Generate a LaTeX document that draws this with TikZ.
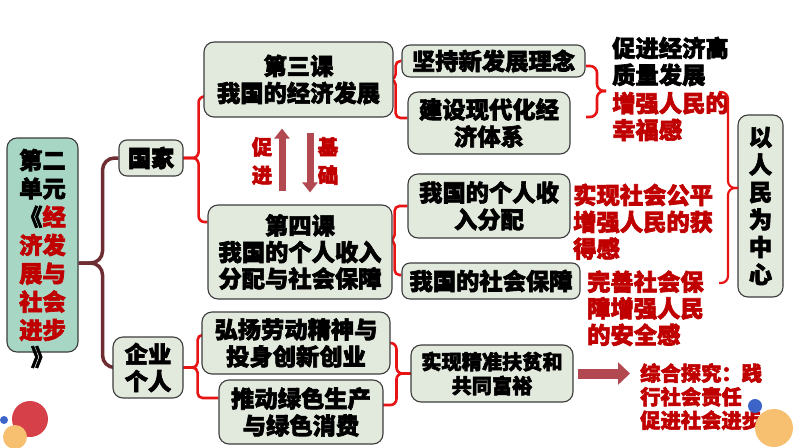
\documentclass[tikz,border=0pt]{standalone}
\usepackage{fontspec}
\setmainfont{Noto Sans CJK SC}[BoldFeatures={FakeBold=2.6}]
\usetikzlibrary{calc,arrows.meta}
\definecolor{boxfill}{RGB}{226,233,221}
\definecolor{unitfill}{RGB}{168,214,197}
\definecolor{bordc}{RGB}{60,60,60}
\definecolor{tred}{RGB}{192,0,0}
\definecolor{bracec}{RGB}{232,20,20}
\definecolor{dbrace}{RGB}{110,45,50}
\definecolor{arrowc}{RGB}{178,72,80}
\definecolor{cred}{RGB}{214,64,72}
\definecolor{corange}{RGB}{246,192,112}
\definecolor{cblue}{RGB}{60,100,200}
\pgfdeclarelayer{bg}
\pgfsetlayers{bg,main}
\begin{document}
\begin{tikzpicture}[x=1pt,y=-1pt,
  box/.style={draw=bordc, line width=1.1pt, fill=boxfill, rounded corners=10pt,
    align=center, inner sep=0pt, text=black,
    font=\bfseries\fontsize{23.3}{27}\selectfont},
  rtext/.style={text=tred, align=left, inner sep=0pt, anchor=west,
    font=\bfseries\fontsize{23.3}{26.8}\selectfont},
  btext/.style={rtext, text=black},
  rb/.style={draw=bracec, line width=2.6pt, rounded corners=6pt},
  db/.style={draw=dbrace, line width=3.5pt, rounded corners=12pt},
  bigarr/.style={draw=arrowc, line width=7pt, -{Triangle[width=15pt,length=10pt]}},
]
\useasboundingbox (0,0) rectangle (794,447);
\begin{pgfonlayer}{bg}
\fill[white] (0,0) rectangle (794,447);
\end{pgfonlayer}

% boxes
\node[box, fill=unitfill, minimum width=71pt, minimum height=214pt, font=\bfseries\fontsize{23.3}{28.3}\selectfont] (unit) at (42.5,245)
  {第二\\单元\\《{\color{tred}经}\\{\color{tred}济发}\\{\color{tred}展与}\\{\color{tred}社会}\\{\color{tred}进步}};
\node[inner sep=0pt, font=\bfseries\fontsize{23.3}{27}\selectfont] (unit2) at (42.5,357) {》};
\node[box, rounded corners=8pt, minimum width=64pt, minimum height=36pt] (gj) at (151,158) {国家};
\node[box, minimum width=70pt, minimum height=61pt] (qy) at (148,367.5) {企业\\个人};
\node[box, minimum width=189pt, minimum height=75pt] (k3) at (298.5,79.5) {第三课\\我国的经济发展};
\node[box, minimum width=184pt, minimum height=94pt, font=\bfseries\fontsize{23.3}{26.5}\selectfont] (k4) at (300,252) {第四课\\我国的个人收入\\分配与社会保障};
\node[box, rounded corners=8pt, minimum width=183pt, minimum height=32pt] (jc) at (493.5,61) {坚持新发展理念};
\node[box, minimum width=162pt, minimum height=62pt] (js) at (489,123) {建设现代化经\\济体系};
\node[box, minimum width=162pt, minimum height=64pt] (gr) at (489,206) {我国的个人收\\入分配};
\node[box, rounded corners=8pt, minimum width=178pt, minimum height=36pt] (sb) at (491,281) {我国的社会保障};
\node[box, minimum width=188pt, minimum height=62pt] (hy) at (296,343) {弘扬劳动精神与\\投身创新创业};
\node[box, minimum width=164pt, minimum height=64pt] (td) at (301,412) {推动绿色生产\\与绿色消费};
\node[box, minimum width=162pt, minimum height=57pt, font=\bfseries\fontsize{20.2}{24}\selectfont] (sx) at (492,373.5) {实现精准扶贫和\\共同富裕};
\node[box, minimum width=45pt, minimum height=182pt, font=\bfseries\fontsize{23.3}{27.5}\selectfont] (zx) at (760.5,206) {以\\人\\民\\为\\中\\心};

% free texts
\node[btext] (t1) at (612,61.5) {促进经济高\\质量发展};
\node[rtext] (t2) at (612,116.5) {增强人民的\\幸福感};
\node[rtext] (t3) at (573,221.7) {实现社会公平\\增强人民的获\\得感};
\node[rtext, font=\bfseries\fontsize{23.3}{26.5}\selectfont] (t4) at (587,308.3) {完善社会保\\障增强人民\\的安全感};
\node[rtext, font=\bfseries\fontsize{20.3}{23.5}\selectfont] (t5) at (640,396.7) {综合探究：践\\行社会责任\\促进社会进步};
\node[rtext, anchor=center, align=center, font=\bfseries\fontsize{20.5}{28}\selectfont] (lcj) at (262,161) {促\\进};
\node[rtext, anchor=center, align=center, font=\bfseries\fontsize{20.5}{28}\selectfont] (ljc) at (328,161) {基\\础};

% brace free points
\coordinate (b1t) at (586,66);
\coordinate (b1b) at (586,117);
\coordinate (b1c) at (606,91);
\coordinate (b2t) at (719,92);
\coordinate (b2b) at (719,283);
\coordinate (b2c) at (738,188);

\begin{pgfonlayer}{bg}
% dark brace
\draw[db] ([yshift=-18pt]unit.east) -- ++(24,0) |- (gj.west);
\draw[db] ([yshift=-18pt]unit.east) -- ++(24,0) |- (qy.west);
% guojia brace
\draw[rb] ([xshift=-6pt]gj.east) -- ++(21,0) |- ([yshift=-17pt]k3.west);
\draw[rb] ([xshift=-6pt]gj.east) -- ++(21,0) |- ([yshift=30pt]k4.west);
% k3 brace
\draw[rb, rounded corners=5pt] ([xshift=-8pt]k3.east) -- ++(10,0) |- (jc.west);
\draw[rb, rounded corners=5pt] ([xshift=-8pt]k3.east) -- ++(10,0) |- ([yshift=5pt]js.west);
% k4 brace
\draw[rb, rounded corners=5pt] ([xshift=-8pt,yshift=12pt]k4.east) -- ++(10,0) |- (gr.west);
\draw[rb, rounded corners=5pt] ([xshift=-8pt,yshift=12pt]k4.east) -- ++(10,0) |- ([yshift=6pt]sb.west);
% qiye brace
\draw[rb, rounded corners=5pt] ([xshift=-6pt]qy.east) -- ++(20,0) |- ([yshift=8pt]hy.west);
\draw[rb, rounded corners=5pt] ([xshift=-6pt]qy.east) -- ++(20,0) |- ([yshift=14pt]td.west);
% to shixian brace
\draw[rb] ([xshift=-6pt]hy.east) -| ($(sx.west)+(-14,0)$) -- ([xshift=6pt]sx.west);
\draw[rb] ([xshift=-6pt,yshift=7pt]td.east) -| ($(sx.west)+(-14,0)$) -- ([xshift=6pt]sx.west);
\end{pgfonlayer}

% brace to texts
\draw[rb, rounded corners=7pt] (b1t) -| ($(b1c)+(-9,0)$) -- (b1c);
\draw[rb, rounded corners=7pt] (b1b) -| ($(b1c)+(-9,0)$) -- (b1c);
% big brace
\draw[rb, line width=2.2pt, rounded corners=7pt] (b2t) -| ($(b2c)+(-10,0)$) -- (b2c);
\draw[rb, line width=2.2pt, rounded corners=7pt] (b2b) -| ($(b2c)+(-10,0)$) -- (b2c);

% big arrows
\draw[bigarr] ($(k4.north)+(-18,-13)$) -- ($(k3.south)+(-16.5,11)$);
\draw[bigarr] ($(k3.south)+(11.5,15)$) -- ($(k4.north)+(10,-12)$);
\draw[draw=arrowc, line width=10pt, -{Triangle[width=22pt,length=12pt]}]
  ($(sx.east)+(4,0)$) -- ($(sx.east -| t5.west)+(-10,0)$);

% decorative circles
\fill[cred] (30,419) circle (18pt);
\fill[corange] (15,437) circle (12pt);
\fill[cblue] (4,420) circle (4pt);
\fill[corange] (774,428) circle (19pt);
\fill[cblue] (755,406) circle (7pt);
\end{tikzpicture}
\end{document}
